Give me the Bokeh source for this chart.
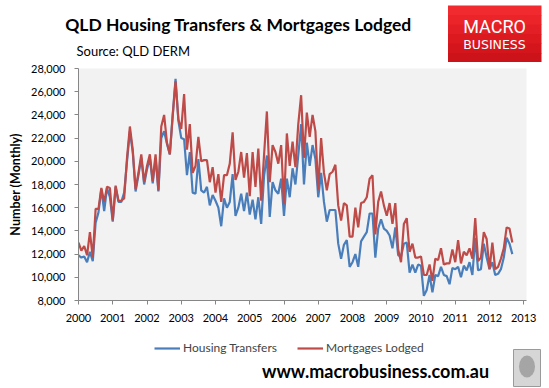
import pandas as pd
from bokeh.plotting import figure
from bokeh.layouts import column, row
from bokeh.models import (Range1d, Legend, LegendItem, FixedTicker,
                          NumeralTickFormatter, ColumnDataSource)
from bokeh.core.properties import value
from bokeh.embed import file_html
from bokeh.resources import INLINE

# Monthly data, Jan 2000 - Sep 2012
transfers = [
    11900, 11700, 11800, 11300, 12200, 11400, 14700, 15600, 17600, 15700, 17700, 16900,  # 2000
    14800, 17800, 16500, 16500, 17300, 20000, 22600, 20800, 17400, 18800, 20300, 18000,  # 2001
    19300, 20300, 18100, 20300, 17400, 22000, 22600, 21500, 20600, 24000, 27100, 23500,  # 2002
    22000, 21900, 18800, 20800, 17300, 17200, 20200, 17500, 17300, 17800, 16200, 17100,  # 2003
    16600, 16000, 14400, 16800, 16000, 16500, 18900, 15300, 16000, 17200, 15700, 17300,  # 2004
    15400, 16700, 15000, 16900, 14600, 18700, 20500, 15200, 18200, 17500, 17200, 18500,  # 2005
    15300, 18500, 16900, 19400, 18000, 20500, 23200, 18000, 21600, 19600, 21400, 20200,  # 2006
    16900, 19000, 16500, 14800, 15800, 15800, 15800, 12900, 11600, 12800, 13200, 10900,  # 2007
    11300, 12000, 10900, 13100, 13500, 13900, 15500, 15500, 11700, 14200, 15000, 14200,  # 2008
    14000, 13600, 12500, 14300, 11900, 11800, 12900, 13000, 10400, 11100, 10400, 11100,  # 2009
    11000, 8400, 8900, 10200, 8700, 10200, 10100, 10900, 10200, 10100, 9400, 10800,      # 2010
    10700, 10900, 10000, 11000, 10600, 11300, 10200, 13400, 10600, 10700, 12900, 11700,  # 2011
    10700, 11300, 10200, 10300, 10700, 11700, 13400, 12900, 12000,                      # 2012
]
mortgages = [
    13000, 12300, 12700, 11900, 13900, 11700, 15900, 15900, 17700, 16500, 17800, 17700,  # 2000
    14900, 17900, 16600, 16600, 16800, 20300, 23000, 21000, 17600, 19000, 20600, 18200,  # 2001
    19600, 20600, 18300, 20600, 17500, 23000, 24000, 21600, 20600, 23900, 26900, 23600,  # 2002
    22800, 25800, 21000, 23200, 19000, 19600, 22100, 20000, 20100, 20100, 18200, 19500,  # 2003
    17300, 18900, 16500, 18800, 18800, 19800, 22500, 18400, 19100, 20800, 18600, 20700,  # 2004
    17000, 20800, 17800, 21100, 16600, 20500, 24300, 18200, 21400, 20800, 19800, 21400,  # 2005
    16300, 22400, 19600, 21700, 19500, 23200, 25700, 20300, 24200, 22100, 24000, 22600,  # 2006
    17500, 22000, 19000, 17500, 18900, 19100, 19700, 16200, 14900, 16400, 16200, 13500,  # 2007
    13500, 16000, 14300, 16400, 16500, 16900, 18500, 18800, 13700, 16500, 17400, 16200,  # 2008
    15300, 16400, 14600, 16400, 12400, 11300, 14600, 15100, 12200, 12900, 11700, 11700,  # 2009
    11800, 10200, 10200, 11100, 9700, 11600, 11500, 12500, 11100, 11200, 11200, 12400,   # 2010
    11300, 13200, 11200, 12200, 11900, 12500, 11600, 15100, 11400, 11700, 13900, 13300,  # 2011
    10700, 13000, 10700, 10900, 11600, 12500, 14300, 14200, 13000,                      # 2012
]
year_ticks = list(range(2000, 2014))
y_ticks = list(range(8000, 28001, 2000))
series_names = ["Housing Transfers", "Mortgages Lodged"]
title_text = "QLD Housing Transfers & Mortgages Lodged"
source_text = "Source: QLD DERM"
logo_lines = ["MACRO", "BUSINESS"]
site_text = "www.macrobusiness.com.au"

months = pd.period_range("2000-01", periods=len(transfers), freq="M")
xs = [m.year + (m.month - 1) / 12 for m in months]
src = ColumnDataSource(dict(x=xs, t=transfers, m=mortgages))

BLUE = "#4a7ebb"
RED = "#be4b48"
AXIS = "#868686"
FONT = "Lato"
W = 549


def blank(height, y0, y1):
    f = figure(width=W, height=height, x_range=Range1d(0, W), y_range=Range1d(y1, y0),
               min_border=0, min_border_left=0, min_border_right=0,
               min_border_top=0, min_border_bottom=0,
               x_axis_type=None, y_axis_type=None,
               output_backend="svg", toolbar_location=None, tools="")
    f.outline_line_color = None
    f.grid.visible = False
    f.background_fill_color = "white"
    f.border_fill_color = "white"
    return f


def txt(f, x, y, s, size, font=FONT, style="normal", color="black", align="left"):
    f.text(x=[x], y=[y], text=[s], text_font=value(font), text_font_size=size,
           text_font_style=style, text_align=align, text_baseline="middle", text_color=color)


# ---------- top strip: title, source, logo ----------
TOP_H = 62
top = blank(TOP_H, 0, TOP_H)
txt(top, 238, 24.2, title_text, "17.5px", style="bold", align="center")
txt(top, 76, 50.8, source_text, "13px")
grad = ["#f02a2f", "#ea2429", "#e31e24", "#dc191f", "#d4161c", "#cc131a"]
band = (62 - 5) / len(grad)
for i, c in enumerate(grad):
    top.quad(left=447.5, right=541, top=5 + i * band, bottom=5 + (i + 1) * band + 0.5,
             fill_color=c, line_color=None)
txt(top, 494, 26, logo_lines[0], "18px", font="Roboto", color="white", align="center")
txt(top, 494, 43.7, logo_lines[1], "12.5px", font="DejaVu Sans", color="white", align="center")

# ---------- main chart ----------
p = figure(frame_width=448, frame_height=232,
           min_border_left=78, min_border_right=23, min_border_top=6, min_border_bottom=30,
           x_range=Range1d(2000, 2013.08), y_range=Range1d(8000, 28000),
           output_backend="svg", toolbar_location=None, tools="")
p.background_fill_color = "#f2f2f2"
p.border_fill_color = "white"
p.outline_line_color = None
p.xgrid.visible = False
p.ygrid.visible = False

r1 = p.line("x", "t", source=src, line_color=BLUE, line_width=2.2)
r2 = p.line("x", "m", source=src, line_color=RED, line_width=2.2)

for ax in (p.xaxis[0], p.yaxis[0]):
    ax.axis_line_color = AXIS
    ax.major_tick_line_color = AXIS
    ax.major_tick_out = 4
    ax.major_tick_in = 0
    ax.minor_tick_line_color = None
    ax.major_label_text_font = FONT
    ax.major_label_text_font_size = "11px"
    ax.major_label_text_color = "black"

p.xaxis.ticker = FixedTicker(ticks=year_ticks)
p.xaxis.major_label_standoff = 9
p.yaxis.ticker = FixedTicker(ticks=y_ticks)
p.yaxis.formatter = NumeralTickFormatter(format="0,0")
p.yaxis.major_label_standoff = 9
p.yaxis.axis_label = "Number (Monthly)"
p.yaxis.axis_label_text_font = FONT
p.yaxis.axis_label_text_font_style = "bold"
p.yaxis.axis_label_text_font_size = "12.5px"
p.yaxis.axis_label_text_color = "black"
p.yaxis.axis_label_standoff = 5

# ---------- bottom strip: legend, site, wolf ----------
bot = blank(58, 330, 388)
k1 = bot.line(x=[-20, -10], y=[300, 300], line_color=BLUE, line_width=2.2)
k2 = bot.line(x=[-20, -10], y=[300, 300], line_color=RED, line_width=2.2)
legend = Legend(items=[LegendItem(label=series_names[0], renderers=[k1]),
                       LegendItem(label=series_names[1], renderers=[k2])],
                orientation="horizontal", location=(154, 33),
                glyph_width=26, glyph_height=14, label_height=14, label_standoff=3,
                spacing=20, padding=0, margin=0,
                border_line_color=None, background_fill_alpha=0,
                label_text_font=FONT, label_text_font_size="12px")
bot.add_layout(legend, "center")
txt(bot, 375, 370.7, site_text, "18px", style="bold", align="center")
bot.quad(left=513, right=540, top=349, bottom=386, fill_color="#d6d6d6", line_color="#9a9a9a")
bot.ellipse(x=[526.5], y=[366], width=16, height=22, fill_color="#7d7d7d", fill_alpha=0.55,
            line_color=None)

layout = column(row(top), p, row(bot), spacing=0)
open("out.html", "w").write(file_html(layout, INLINE))
